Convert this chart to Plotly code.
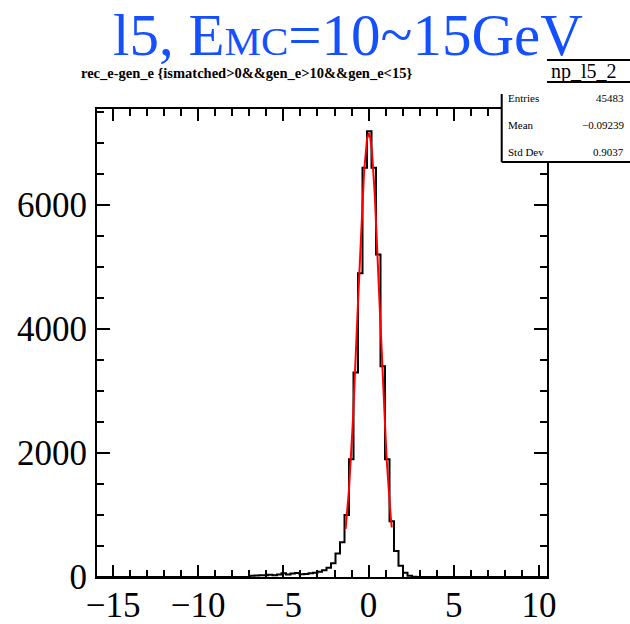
import numpy as np
import plotly.graph_objects as go

# ---------------- data ----------------
x_lo = -15.94
x_hi = 10.47
n_bins = 100
# bin contents (bin index -> count); all other bins are 0
bin_index = list(range(34, 71))
bin_counts = [20, 25, 30, 30, 35, 30, 40, 60, 40, 55,      # 34-43
              65, 45, 50, 60, 70, 85, 110, 150, 220, 380,   # 44-53
              560, 1000, 1900, 3300, 4900, 6600, 7190,      # 54-60
              6600, 5200, 3400, 1900, 900, 420, 180, 70, 20, 3]  # 61-70

# Gaussian fit drawn in red
fit_constant = 7150
fit_mean = 0.01
fit_sigma = 0.645
fit_range = [-1.35, 1.36]

stats_labels = ["Entries", "Mean", "Std Dev"]
stats_values = ["45483", "\u22120.09239", "0.9037"]
hist_name = "np_l5_2"
title_text = "l5, E<span style='font-size:41px'>MC</span>=10~15GeV"
subtitle_text = "rec_e-gen_e {ismatched>0&&gen_e>10&&gen_e<15}"

# ---------------- build ----------------
width = (x_hi - x_lo) / n_bins
edges = x_lo + width * np.arange(n_bins + 1)
contents = np.zeros(n_bins)
for i, c in zip(bin_index, bin_counts):
    contents[i] = c
hx = edges
hy = np.append(contents, contents[-1])

fx = np.linspace(fit_range[0], fit_range[1], 200)
fy = fit_constant * np.exp(-0.5 * ((fx - fit_mean) / fit_sigma) ** 2)

W, H = 630, 624
L, R, T, B = 97, 83, 109, 47
pw, ph = W - L - R, H - T - B


def px(x):
    return (x - L) / pw


def py(y):
    return (H - B - y) / ph


FONT = "Liberation Serif"

fig = go.Figure()
fig.add_trace(go.Scatter(x=hx, y=hy, mode="lines", line=dict(shape="hv", color="black", width=2),
                         hoverinfo="skip", showlegend=False))
fig.add_trace(go.Scatter(x=fx, y=fy, mode="lines", line=dict(color="red", width=2),
                         hoverinfo="skip", showlegend=False))

axis_common = dict(showline=True, linecolor="black", linewidth=2, mirror="ticks",
                   ticks="inside", tickcolor="black", tickwidth=2, showgrid=False, zeroline=False,
                   tickfont=dict(family=FONT, size=35, color="black"))
fig.update_xaxes(range=[x_lo, x_hi], tick0=-15, dtick=5, ticklen=12,
                 minor=dict(dtick=1, tick0=0, ticklen=7, ticks="inside", tickcolor="black", tickwidth=2),
                 ticklabelstandoff=-4, **axis_common)
fig.update_yaxes(range=[0, 7548], tick0=0, dtick=2000, ticklen=13,
                 minor=dict(dtick=500, tick0=0, ticklen=7, ticks="inside", tickcolor="black", tickwidth=2),
                 ticklabelstandoff=1, **axis_common)

shapes = []
# stats box (white, covering the frame)
shapes.append(dict(type="rect", xref="paper", yref="paper", x0=px(501.7), x1=px(640), y0=py(162), y1=py(82),
                   fillcolor="white", line=dict(width=0), layer="above"))
shapes.append(dict(type="line", xref="paper", yref="paper", x0=px(501.7), x1=px(501.7), y0=py(162), y1=py(94),
                   line=dict(color="black", width=2), layer="above"))
shapes.append(dict(type="line", xref="paper", yref="paper", x0=px(501.7), x1=px(640), y0=py(162), y1=py(162),
                   line=dict(color="black", width=2), layer="above"))
# header lines
shapes.append(dict(type="line", xref="paper", yref="paper", x0=px(547), x1=px(640), y0=py(60), y1=py(60),
                   line=dict(color="black", width=2), layer="above"))
shapes.append(dict(type="line", xref="paper", yref="paper", x0=px(547), x1=px(640), y0=py(82), y1=py(82),
                   line=dict(color="black", width=2), layer="above"))
fig.update_layout(shapes=shapes)

ann = []
ann.append(dict(text=title_text, xref="paper", yref="paper", x=px(348), y=py(0), showarrow=False,
                xanchor="center", yanchor="top", font=dict(family=FONT, size=59, color="#1450ff")))
ann.append(dict(text="<b>" + subtitle_text.replace("<", "&lt;").replace(">", "&gt;") + "</b>",
                xref="paper", yref="paper", x=px(246), y=py(73), showarrow=False,
                xanchor="center", yanchor="middle", font=dict(family=FONT, size=14.5, color="black")))
ann.append(dict(text=hist_name, xref="paper", yref="paper", x=px(584), y=py(71), showarrow=False,
                xanchor="center", yanchor="middle", font=dict(family=FONT, size=20, color="black")))
for lab, val, yy in zip(stats_labels, stats_values, [98, 125, 152]):
    ann.append(dict(text=lab, xref="paper", yref="paper", x=px(506), y=py(yy), showarrow=False,
                    xanchor="left", yanchor="middle", font=dict(family=FONT, size=11, color="black")))
    ann.append(dict(text=val, xref="paper", yref="paper", x=px(626), y=py(yy), showarrow=False,
                    xanchor="right", yanchor="middle", font=dict(family=FONT, size=11, color="black")))
fig.update_layout(annotations=ann)

fig.update_layout(width=W, height=H, margin=dict(l=L, r=R, t=T, b=B, autoexpand=False),
                  paper_bgcolor="white", plot_bgcolor="white", showlegend=False)

fig.write_html("out.html", config={"displayModeBar": False},
               post_script="document.body.style.margin='0px';document.body.style.padding='0px';")
